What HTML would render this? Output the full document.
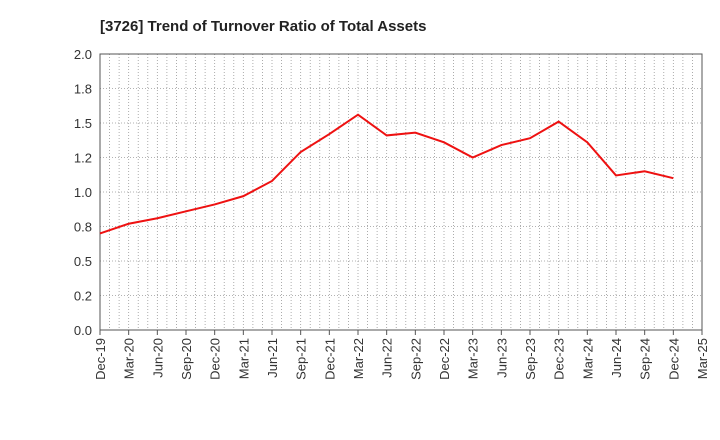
<!DOCTYPE html>
<html><head><meta charset="utf-8"><style>
body{margin:0;background:#fff;}
svg{display:block;font-family:"Liberation Sans",sans-serif;}
</style></head><body>
<svg id="chart" width="720" height="440">
<text x="100" y="31" font-size="15" font-weight="bold" fill="#222">[3726]  Trend of Turnover Ratio of Total Assets</text>
<g id="grid"></g><g id="axes"></g><g id="series"></g>
</svg>
<script>
const categories=["Dec-19","Mar-20","Jun-20","Sep-20","Dec-20","Mar-21","Jun-21","Sep-21","Dec-21","Mar-22","Jun-22","Sep-22","Dec-22","Mar-23","Jun-23","Sep-23","Dec-23","Mar-24","Jun-24","Sep-24","Dec-24","Mar-25"];
const values=[0.70,0.77,0.81,0.86,0.91,0.97,1.08,1.29,1.42,1.56,1.41,1.43,1.36,1.25,1.34,1.39,1.51,1.36,1.12,1.15,1.10];
const yTicks=[0,0.25,0.5,0.75,1.0,1.25,1.5,1.75,2.0];
const yTickLabels=["0.0","0.2","0.5","0.8","1.0","1.2","1.5","1.8","2.0"];
const NS="http://www.w3.org/2000/svg";
const L=100,R=702,T=54,B=330;
const x=i=>L+(R-L)*i/(categories.length-1);
const y=v=>B-(B-T)*v/2.0;
function mk(tag,attrs,parent,text){const e=document.createElementNS(NS,tag);for(const k in attrs)e.setAttribute(k,attrs[k]);if(text!==undefined)e.textContent=text;document.getElementById(parent).appendChild(e);return e;}
// monthly vertical dotted grid
for(let m=1;m<(categories.length-1)*3;m++){const xx=L+(R-L)*m/((categories.length-1)*3);
const g=mk('line',{x1:xx,x2:xx,y1:T,y2:B,stroke:'#999','stroke-width':0.8,'stroke-dasharray':'1,2'},'grid');

}
yTicks.forEach((v,i)=>{
const g=mk('line',{x1:L,x2:R,y1:y(v),y2:y(v),stroke:'#999','stroke-width':0.8,'stroke-dasharray':'1,2'},'grid');


const t=mk('text',{x:L-8,y:y(v)+5,'text-anchor':'end','font-size':13,fill:'#333'},'axes',yTickLabels[i]);


});
const fr=mk('rect',{x:L,y:T,width:R-L,height:B-T,fill:'none',stroke:'#555','stroke-width':1},'axes');


categories.forEach((c,i)=>{
const tk=mk('line',{x1:x(i),x2:x(i),y1:B,y2:B+5,stroke:'#555'},'axes');


const t=mk('text',{x:0,y:0,'text-anchor':'end','font-size':13,fill:'#333',transform:`translate(${x(i)+5},${B+8}) rotate(-90)`},'axes',c);


});
const pl=mk('polyline',{points:values.map((v,i)=>x(i)+','+y(v)).join(' '),fill:'none',stroke:'#ee1111','stroke-width':2},'series');


</script>
</body></html>
